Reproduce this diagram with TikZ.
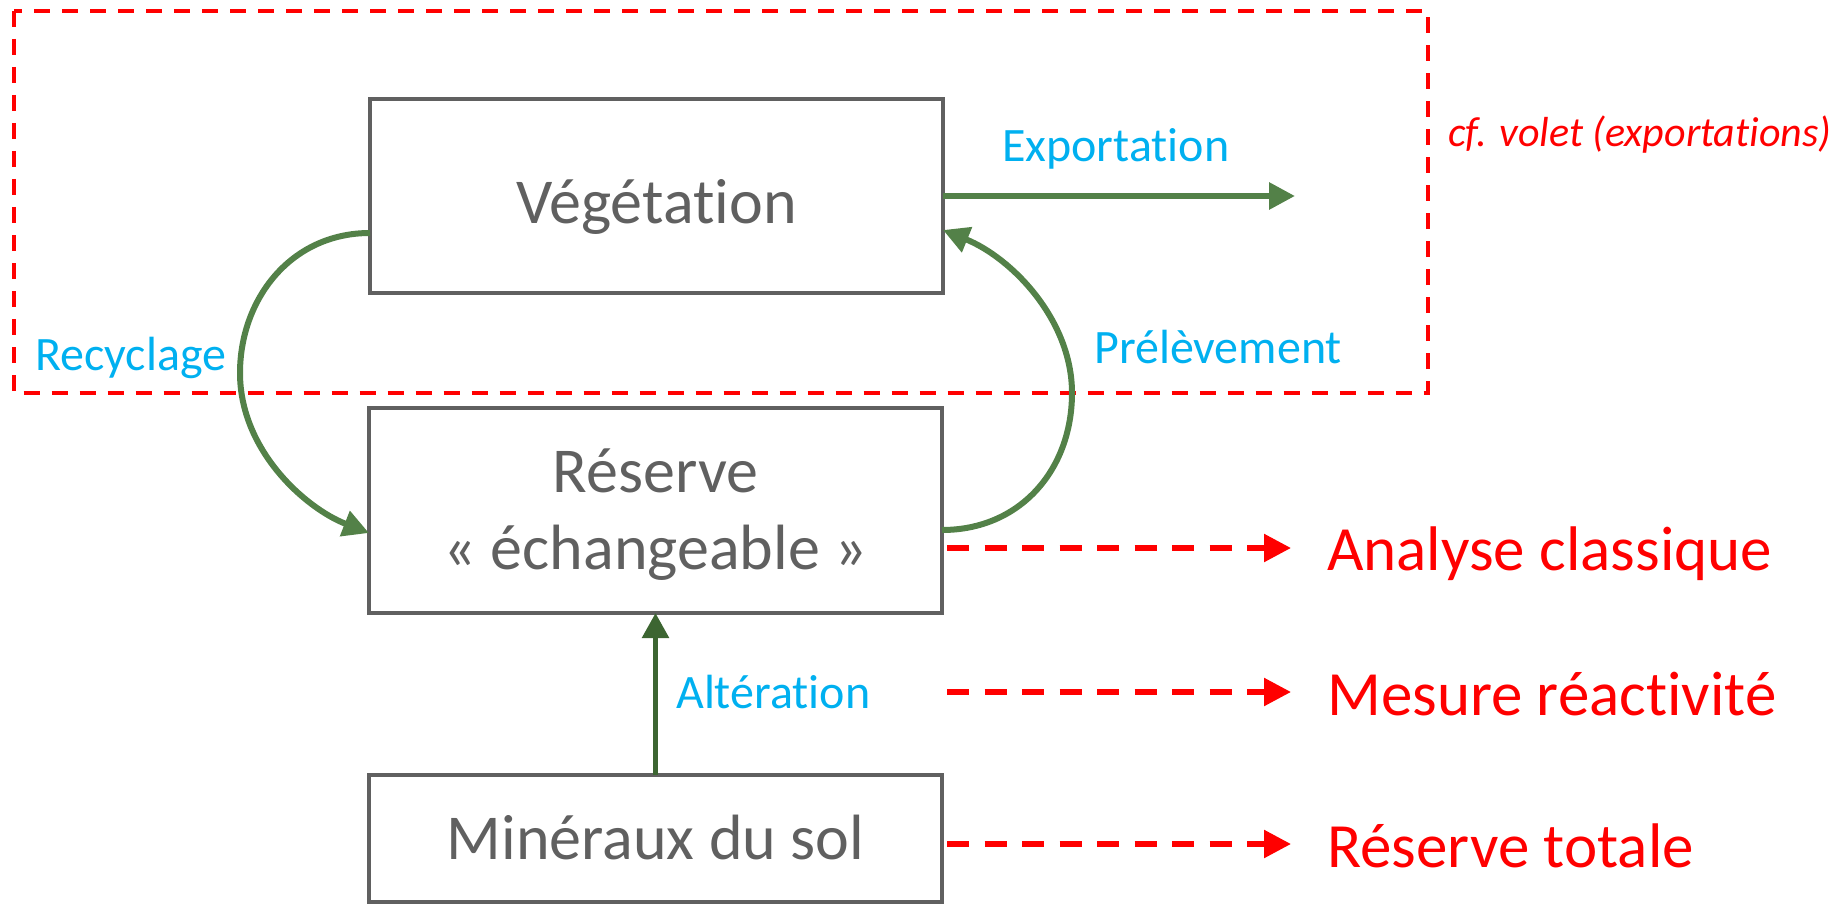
\documentclass[tikz,border=0pt]{standalone}
\usepackage{fontspec}
\setmainfont{Carlito}[Ligatures=NoCommon]
\usetikzlibrary{arrows.meta,calc}
\definecolor{boxgray}{HTML}{606060}
\definecolor{arcgreen}{HTML}{538148}
\definecolor{darkgreen}{HTML}{3C6531}
\definecolor{lblue}{HTML}{00B0F0}
\definecolor{pred}{HTML}{FF0000}
\tikzset{
  box/.style={draw=boxgray, line width=4pt, minimum width=573pt, inner sep=0pt, outer sep=0pt,
    text=boxgray, font=\fontsize{64}{77}\selectfont, align=center},
  flow/.style={draw=arcgreen, line width=6pt, -{Triangle[length=26pt,width=26pt]}},
  flowdark/.style={draw=darkgreen, line width=5.5pt, -{Triangle[length=25pt,width=26pt]}},
  flowlbl/.style={text=lblue, font=\fontsize{48}{56}\selectfont, anchor=base west, inner sep=0pt},
  reflbl/.style={text=pred, font=\fontsize{63}{76}\selectfont, anchor=base west, inner sep=0pt},
  refarrow/.style={draw=pred, line width=5.5pt, dash pattern=on 22pt off 15.5pt, -{Triangle[length=27pt,width=27pt]}},
  scopebox/.style={draw=pred, line width=4pt, dash pattern=on 16pt off 12pt}
}
\begin{document}
\begin{tikzpicture}[x=1pt,y=-1pt]
\useasboundingbox (0,0) rectangle (1836,904);
% scope rectangle
\draw[scopebox] (13.5,11) rectangle (1427.5,393);
% boxes
\node[box, minimum height=194pt, text height=54pt, text depth=0pt] (veg) at (656.5,196) {Végétation};
\node[box, minimum height=205pt, text height=117pt, text depth=0pt] (res) at (655.5,510.5) {Réserve\\« échangeable »};
\node[box, minimum height=127pt, text height=41pt, text depth=0pt] (min) at (655.5,838.5) {Minéraux du sol};
% exportation
\coordinate (expend) at (1295,196);
\draw[flow] (veg.east) -- (expend);
\node[flowlbl] (lexp) at (1002,162) {Exportation};
% recyclage
\draw[flow] ($(veg.west)+(0,37)$) .. controls (290,233) and (240,300) .. (240,373)
  .. controls (240,450) and (305,508) .. ($(res.west)+(0,22.5)$);
\node[flowlbl] (lrec) at (35,370) {Recyclage};
% prelevement
\draw[flow] ($(res.east)+(0,19.5)$) .. controls (1020,530) and (1072,470) .. (1072,393)
  .. controls (1072,320) and (1012,258) .. ($(veg.east)+(0,34)$);
\node[flowlbl] (lpre) at (1094,363) {Prélèvement};
% alteration
\draw[flowdark] (min.north) -- (res.south);
\node[flowlbl] (lalt) at (676,708) {Altération};
% cf volet
\node[text=pred, font=\fontsize{42}{50}\selectfont\itshape, anchor=base west, inner sep=0pt] (cfv) at (1448,147) {cf. volet (exportations)};
% red arrows
\coordinate (s2) at (947,692);
\coordinate (t1) at (1291,548);
\coordinate (t2) at (1291,692);
\coordinate (t3) at (1291,844);
\draw[refarrow] ($(res.east)+(5,37.5)$) -- (t1);
\draw[refarrow] (s2) -- (t2);
\draw[refarrow] ($(min.east)+(5,5.5)$) -- (t3);
\node[reflbl] (r1) at (1327,570) {Analyse classique};
\node[reflbl] (r2) at (1327,715) {Mesure réactivité};
\node[reflbl] (r3) at (1327,867) {Réserve totale};
\end{tikzpicture}
\end{document}
